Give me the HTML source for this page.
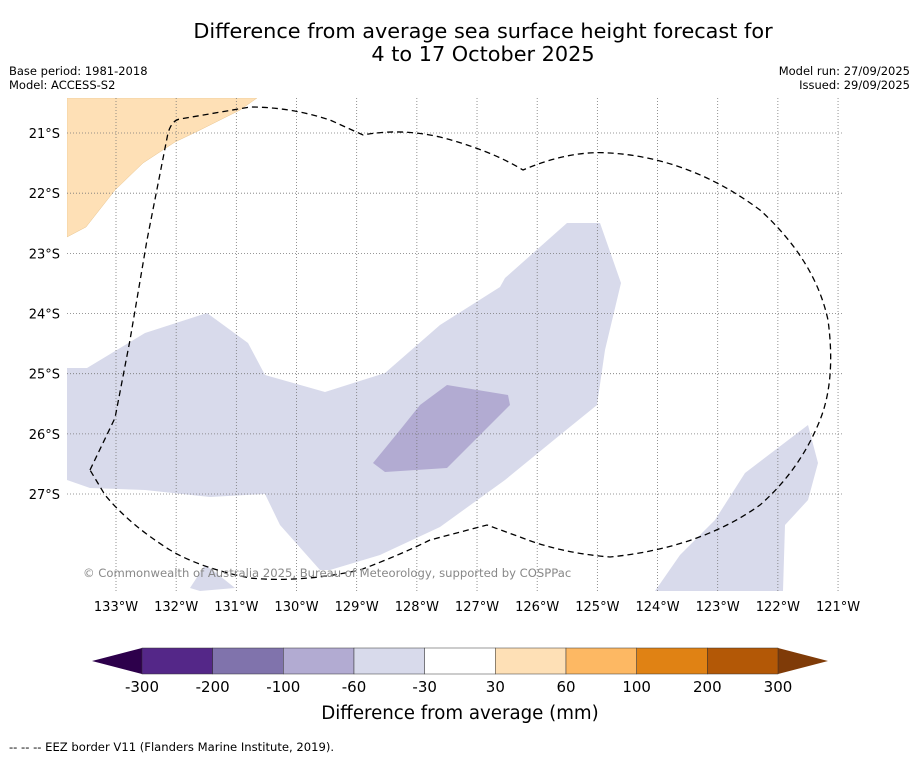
<!DOCTYPE html>
<html><head><meta charset="utf-8"><style>
body{margin:0;background:#fff;width:919px;height:758px;overflow:hidden;font-family:"Liberation Sans","DejaVu Sans",sans-serif}
svg{position:absolute;left:0;top:0}
</style></head><body>
<svg width="919" height="758" font-family="DejaVu Sans, Liberation Sans, sans-serif">
<text x="483" y="38" font-size="20.8" text-anchor="middle">Difference from average sea surface height forecast for</text>
<text x="483" y="61" font-size="20.8" text-anchor="middle">4 to 17 October 2025</text>
<text x="9" y="75" font-size="11.5">Base period: 1981-2018</text>
<text x="9" y="89" font-size="11.5">Model: ACCESS-S2</text>
<text x="910" y="75" font-size="11.5" text-anchor="end">Model run: 27/09/2025</text>
<text x="910" y="89" font-size="11.5" text-anchor="end">Issued: 29/09/2025</text>
<defs><clipPath id="mc"><rect x="67" y="98" width="776" height="493"/></clipPath></defs>
<g clip-path="url(#mc)">
<polygon fill="#fee0b6" stroke="#e8c48e" stroke-width="0.5" points="67,98 257,98 240,110 200,130 175,142 143,163 115,190 86,227 67,237"/>
<polygon fill="#d8daeb" points="67,368 87,368 145,333 207,313 248,343 265,375 325,392 385,373 440,325 500,287 505,278 567,223 600,223 621,283 605,350 597,405 560,435 505,480 440,527 380,555 330,570 320,570 280,525 265,494 210,497 145,490 90,488 67,480"/>
<polygon fill="#b2abd2" points="373,463 400,430 420,405 447,385 508,395 510,405 480,435 447,468 385,472"/>
<polygon fill="#d8daeb" points="655,591 680,555 715,520 745,473 808,425 818,463 808,500 785,525 783,591"/>
<polygon fill="#d8daeb" points="190,588 205,565 215,572 235,588 200,591"/>
<g id="grid"></g>
<path fill="none" stroke="#000" stroke-width="1.3" stroke-dasharray="6,4" d="M90,470 L115,418 L130,340 L147,240 L168,133 Q172,120 180,119 L250,107 Q290,107 330,120 L363,135 Q400,128 440,137 Q490,150 523,170 Q570,150 610,153 Q690,158 760,210 Q815,260 828,320 Q836,380 820,420 Q800,470 760,505 Q700,548 610,557 Q560,553 520,537 L487,525 L430,540 Q400,555 360,570 Q300,583 250,578 Q200,568 170,550 Q130,525 105,495 L90,470"/>
</g>
<text x="83" y="577" font-size="11.6" fill="#888">© Commonwealth of Australia 2025, Bureau of Meteorology, supported by COSPPac</text>
<g id="axes"></g>
<g id="cbar"></g>
<text x="460" y="719" font-size="18.2" text-anchor="middle">Difference from average (mm)</text>
<text x="9" y="751" font-size="11.6">-- -- -- EEZ border V11 (Flanders Marine Institute, 2019).</text>
</svg>
<script>
const lonTicks=[133,132,131,130,129,128,127,126,125,124,123,122,121];
const latTicks=[21,22,23,24,25,26,27];
const levels=["-300","-200","-100","-60","-30","30","60","100","200","300"];
const colors=["#542788","#8073ac","#b2abd2","#d8daeb","#ffffff","#fee0b6","#fdb863","#e08214","#b35806"];
const ns="http://www.w3.org/2000/svg";
const xs=lon=>116+(133-lon)*60.17, ys=lat=>133+(lat-21)*60.17;
function mk(t,a,p){const e=document.createElementNS(ns,t);for(const k in a)e.setAttribute(k,a[k]);p.appendChild(e);return e;}
const grid=document.getElementById('grid'),axes=document.getElementById('axes'),cb=document.getElementById('cbar');
lonTicks.forEach(l=>{const x=xs(l);
 const g=mk('line',{x1:x,x2:x,y1:98,y2:591,stroke:'#777','stroke-width':0.8,'stroke-dasharray':'1,2'},grid);
 
 
 const t=mk('text',{x:x,y:611,'font-size':13,'text-anchor':'middle'},axes);t.textContent=l+'°W';
 
 });
latTicks.forEach(l=>{const y=ys(l);
 const g=mk('line',{x1:67,x2:843,y1:y,y2:y,stroke:'#777','stroke-width':0.8,'stroke-dasharray':'1,2'},grid);
 
 
 const t=mk('text',{x:60,y:y+5,'font-size':13,'text-anchor':'end'},axes);t.textContent=l+'°S';
 
 });
const x0=142,x1=778,w=(x1-x0)/colors.length;
const lt=mk('polygon',{points:`92,661 ${x0},648 ${x0},674`,fill:'#2d004b'},cb);


const rt=mk('polygon',{points:`828,661 ${x1},648 ${x1},674`,fill:'#7f3b08'},cb);


colors.forEach((c,i)=>{const r=mk('rect',{x:x0+i*w,y:648,width:w,height:26,fill:c,stroke:'#333','stroke-width':0.5},cb);
 
 });
levels.forEach((v,i)=>{const t=mk('text',{x:x0+i*w,y:692,'font-size':15,'text-anchor':'middle'},cb);t.textContent=v;
 
 });
</script>
</body></html>
